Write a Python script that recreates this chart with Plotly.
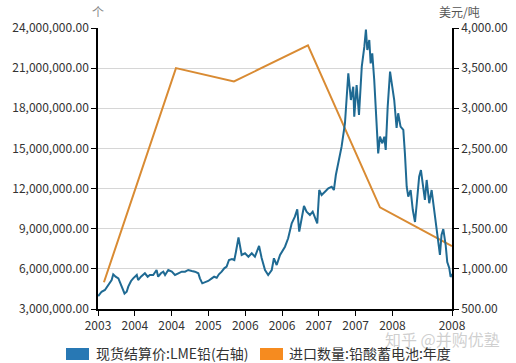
import plotly.graph_objects as go

# ---- data ----
lme_dates = [
"2003-12-23","2004-01-09","2004-01-26","2004-02-12","2004-02-29","2004-03-08","2004-03-20","2004-04-03","2004-04-11","2004-04-20",
"2004-05-04","2004-05-15","2004-05-23","2004-06-06","2004-06-17","2004-07-05","2004-07-12","2004-07-26","2004-08-15","2004-08-29",
"2004-09-09","2004-09-26","2004-10-13","2004-10-21","2004-11-04","2004-11-16","2004-11-25","2004-12-11","2004-12-29","2005-01-14",
"2005-01-31","2005-02-17","2005-03-06","2005-03-22","2005-04-09","2005-04-25","2005-05-12","2005-05-20","2005-06-01","2005-06-14",
"2005-07-01","2005-07-19","2005-07-31","2005-08-13","2005-08-24","2005-09-07","2005-09-20","2005-10-02","2005-10-14","2005-10-29",
"2005-11-10","2005-11-18","2005-12-01","2005-12-17","2006-01-03","2006-01-20","2006-02-06","2006-02-22","2006-03-15","2006-03-28",
"2006-04-14","2006-04-30","2006-05-18","2006-05-29","2006-06-12","2006-06-29","2006-07-24","2006-08-09","2006-08-27","2006-09-12",
"2006-09-24","2006-10-04","2006-10-16","2006-10-28","2006-11-10","2006-11-27","2006-12-11","2006-12-22","2007-01-03","2007-01-13",
"2007-01-25","2007-02-11","2007-02-28","2007-03-17","2007-03-28","2007-04-07","2007-04-19","2007-05-06","2007-05-23","2007-06-09",
"2007-06-22","2007-07-04","2007-07-09","2007-07-21","2007-08-02","2007-08-16","2007-08-29","2007-09-06","2007-09-13","2007-09-23",
"2007-09-30","2007-10-08","2007-10-18","2007-10-31","2007-11-07","2007-11-16","2007-11-28","2007-12-08","2007-12-15","2007-12-25",
"2008-01-06","2008-01-17","2008-01-27","2008-02-08","2008-02-16","2008-02-28","2008-03-13","2008-03-21","2008-03-30","2008-04-07",
"2008-04-19","2008-04-30","2008-05-11","2008-05-20","2008-06-01","2008-06-10","2008-06-22","2008-06-30","2008-07-09","2008-07-22",
"2008-08-03","2008-08-11","2008-08-25","2008-09-05","2008-09-14","2008-09-22","2008-10-01","2008-10-13","2008-10-21","2008-10-31",
"2008-11-07","2008-11-14"]

lme_values = [
660, 715, 737, 799, 861, 932, 902, 882, 840, 778,
693, 715, 778, 849, 882, 924, 861, 902, 945, 902,
924, 924, 986, 902, 945, 965, 924, 986, 965, 924,
945, 965, 965, 986, 973, 965, 945, 882, 820, 833,
849, 882, 902, 890, 932, 965, 1007, 1027, 1110, 1123,
1110, 1210, 1391, 1173, 1194, 1151, 1194, 1151, 1285, 1135,
986, 924, 986, 1132, 1048, 1173, 1276, 1381, 1567, 1650,
1742, 1463, 1650, 1783, 1712, 1671, 1712, 1630, 1567, 1982,
1920, 1961, 2003, 2023, 1982, 2169, 2331, 2522, 2813, 3436,
3103, 3269, 2895, 3290, 2916, 3518, 3767, 3981, 3726, 3851,
3560, 3685, 3352, 2771, 2439, 2646, 2564, 2646, 2481, 3020,
3456, 3269, 3103, 2755, 2938, 2771, 2730, 2439, 2023, 1899,
1982, 1733, 1584, 1817, 2148, 2231, 2023, 1858, 2107, 1817,
1982, 1817, 1567, 1359, 1173, 1422, 1496, 1297, 1085, 1011,
899, 936]

import_dates = ["2004-01-21", "2005-01-19", "2005-11-08", "2006-11-17", "2007-11-16", "2008-11-14"]
import_values = [5.0e6, 21.0e6, 20.0e6, 22.7e6, 10.6e6, 7.7e6]

x_tick_dates = ["2003-12-22", "2004-06-25", "2004-12-28", "2005-07-02", "2006-01-04",
                "2006-07-09", "2007-01-11", "2007-07-16", "2008-01-18", "2008-11-14"]
x_tick_labels = ["2003", "2004", "2004", "2005", "2006", "2006", "2007", "2007", "2008", "2008"]
x_range = ["2003-12-22", "2008-11-14"]

left_ticks = [3e6, 6e6, 9e6, 12e6, 15e6, 18e6, 21e6, 24e6]
right_ticks = [500, 1000, 1500, 2000, 2500, 3000, 3500, 4000]

name_lme = "现货结算价:LME铅(右轴)"
name_import = "进口数量:铅酸蓄电池:年度"

BLUE_LINE = "#1f6a93"
ORANGE_LINE = "#d98b33"
BLUE_KEY = "#2878b4"
ORANGE_KEY = "#f68b1f"
FONT = "Noto Sans CJK SC, Noto Sans, sans-serif"

fig = go.Figure()
fig.add_trace(go.Scatter(x=import_dates, y=import_values, mode="lines", name=name_import,
                         line=dict(color=ORANGE_LINE, width=2), yaxis="y", showlegend=False))
fig.add_trace(go.Scatter(x=lme_dates, y=lme_values, mode="lines", name=name_lme,
                         line=dict(color=BLUE_LINE, width=2), yaxis="y2", showlegend=False))

W, H = 516, 363
L, R, T, B = 98, 64, 28, 54
pw, ph = W - L - R, H - T - B

def px(x):
    return (x - L) / pw

def py(y):
    return (H - B - y) / ph

# legend keys (custom rectangles) + labels
shapes = [
    dict(type="rect", xref="paper", yref="paper", x0=px(66), x1=px(89), y0=py(360), y1=py(348),
         fillcolor=BLUE_KEY, line=dict(width=0)),
    dict(type="rect", xref="paper", yref="paper", x0=px(260), x1=px(283), y0=py(360), y1=py(348),
         fillcolor=ORANGE_KEY, line=dict(width=0)),
]
annotations = [
    dict(text="知乎 @并购优塾", xref="paper", yref="paper", x=px(442), y=py(339), xanchor="center", yanchor="middle",
         showarrow=False, font=dict(size=16, color="rgba(160,160,160,0.5)", family=FONT)),
    dict(text=name_lme, xref="paper", yref="paper", x=px(94), y=py(353), xanchor="left", yanchor="middle",
         showarrow=False, font=dict(size=14, color="#333333", family=FONT)),
    dict(text=name_import, xref="paper", yref="paper", x=px(287), y=py(353), xanchor="left", yanchor="middle",
         showarrow=False, font=dict(size=14, color="#333333", family=FONT)),
    dict(text="个", xref="paper", yref="paper", x=px(98), y=py(11), xanchor="center", yanchor="middle",
         showarrow=False, font=dict(size=12, color="#888888", family=FONT)),
    dict(text="美元/吨", xref="paper", yref="paper", x=px(459), y=py(11), xanchor="center", yanchor="middle",
         showarrow=False, font=dict(size=12, color="#555555", family=FONT)),
]

axis_common = dict(showline=True, linecolor="black", linewidth=1.5,
                   ticks="outside", ticklen=5, tickcolor="black", tickwidth=1,
                   tickfont=dict(size=12, color="#333333"), zeroline=False, automargin=False)

fig.update_layout(
    width=W, height=H,
    margin=dict(l=L, r=R, t=T, b=B, pad=0, autoexpand=False),
    paper_bgcolor="white", plot_bgcolor="white",
    font=dict(family=FONT, size=12, color="#333333"),
    showlegend=False,
    shapes=shapes, annotations=annotations,
    xaxis=dict(type="date", range=x_range, tickvals=x_tick_dates, ticktext=x_tick_labels,
               showgrid=False, **axis_common),
    yaxis=dict(range=[3e6, 24e6], tickvals=left_ticks, tickformat=",.2f",
               showgrid=True, gridcolor="#d6d6d6", gridwidth=1, **axis_common),
    yaxis2=dict(range=[500, 4000], tickvals=right_ticks, tickformat=",.2f",
                overlaying="y", side="right", showgrid=False, **axis_common),
)

fig.write_html("out.html", config={"displayModeBar": False},
               post_script="document.body.style.margin='0';document.body.style.padding='0';")
